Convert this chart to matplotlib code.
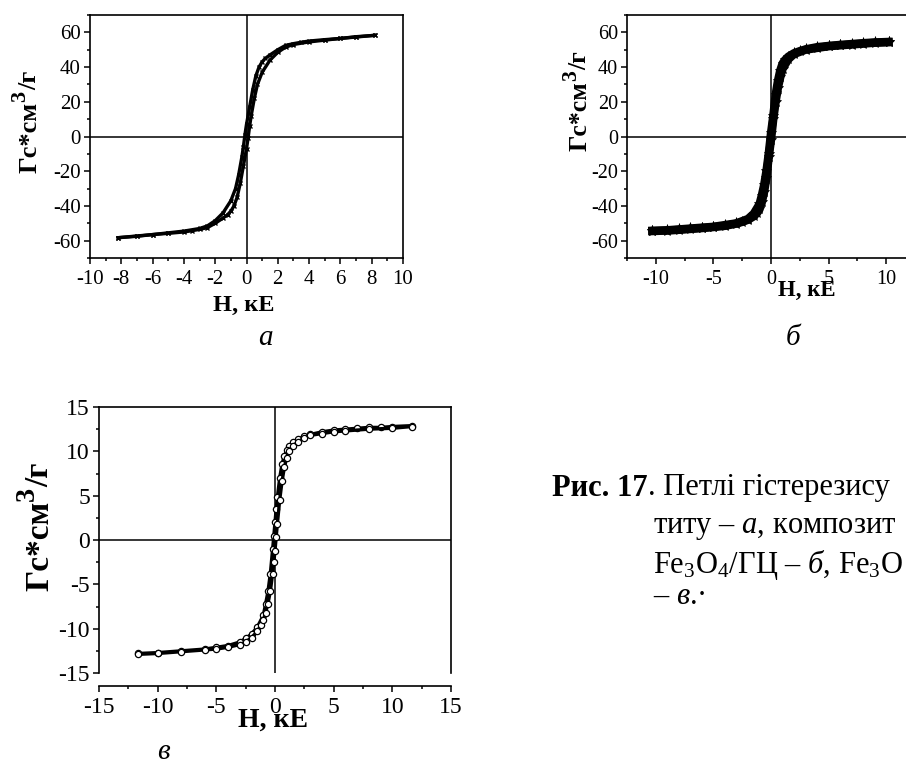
import matplotlib
matplotlib.use('agg')
from matplotlib import pyplot as plt
from matplotlib.ticker import MultipleLocator

plt.rcParams.update({
    "font.family": ["Liberation Serif", "DejaVu Serif"],
    "mathtext.fontset": "custom",
    "mathtext.rm": "Liberation Serif",
    "mathtext.it": "Liberation Serif:italic",
    "mathtext.bf": "Liberation Serif:bold",
    "axes.unicode_minus": False,
})

W, H = 906, 767

# panel a: magnetite, descending and ascending branches
a_h_down = [8.2, 7, 6, 5, 4, 3.5, 3, 2.5, 2, 1.5, 1.2, 1.0, 0.8, 0.6, 0.4, 0.2, 0.0,
            -0.1, -0.2, -0.3, -0.5, -0.7, -1.0, -1.5, -2, -2.5, -3, -4, -5, -6, -7, -8.2]
a_m_down = [58.3, 57.5, 56.5, 55.8, 55, 54.3, 53.5, 52.5, 50, 47, 45, 43, 40, 35, 27, 17, 7,
            1, -6, -12, -22, -30, -37, -44, -48.5, -51.5, -53, -54.5, -55.5, -56.5, -57.3, -58.3]
a_h_up = [-8.2, -7, -6, -5, -4, -3.5, -3, -2.5, -2, -1.5, -1.2, -1.0, -0.8, -0.6, -0.4, -0.2, 0.0,
          0.1, 0.2, 0.3, 0.5, 0.7, 1.0, 1.5, 2, 2.5, 3, 4, 5, 6, 7, 8.2]
a_m_up = [-58.3, -57.5, -56.5, -55.8, -55, -54.3, -53.5, -52.5, -50, -47, -45, -43, -40, -35, -27, -17, -7,
          -1, 6, 12, 22, 30, 37, 44, 48.5, 51.5, 53, 54.5, 55.5, 56.5, 57.3, 58.3]

# panel b: Fe3O4/GC composite
b_h_down = [10.2, 9, 8, 7, 6, 5, 4, 3, 2.5, 2, 1.5, 1.2, 1.0, 0.8, 0.6, 0.4, 0.2, 0.0,
            -0.2, -0.4, -0.6, -0.8, -1.0, -1.5, -2, -3, -4, -5, -6, -7, -8, -9, -10.3]
b_m_down = [54.5, 54.2, 53.8, 53.3, 52.8, 52.2, 51.5, 50.2, 49.2, 48, 46, 44, 42, 38, 32, 24, 12, 2,
            -10, -20, -28, -34, -39, -44.5, -47.5, -50, -51, -52, -52.5, -53, -53.5, -54, -54.3]
b_h_up = [-10.3, -9, -8, -7, -6, -5, -4, -3, -2.5, -2, -1.5, -1.2, -1.0, -0.8, -0.6, -0.4, -0.2, 0.0,
          0.2, 0.4, 0.6, 0.8, 1.0, 1.5, 2, 3, 4, 5, 6, 7, 8, 9, 10.2]
b_m_up = [-54.5, -54.2, -53.8, -53.3, -52.8, -52.2, -51.5, -50.2, -49.2, -48, -46, -44, -42, -38, -32, -24, -12, -2,
          10, 20, 28, 34, 39, 44.5, 47.5, 50, 51, 52, 52.5, 53, 53.5, 54, 54.3]

# panel c: second composite
c_h_down = [11.7, 10, 9, 8, 7, 6, 5, 4, 3, 2.5, 2, 1.5, 1.2, 1.0, 0.8, 0.6, 0.4, 0.2, 0.1, 0.0,
            -0.1, -0.2, -0.4, -0.6, -0.8, -1.0, -1.5, -2, -2.5, -3, -4, -5, -6, -8, -10, -11.7]
c_m_down = [12.9, 12.8, 12.7, 12.7, 12.6, 12.5, 12.4, 12.2, 11.9, 11.7, 11.4, 11.0, 10.6, 10.1, 9.5, 8.6, 7.0, 4.8, 3.5, 2.0,
            0.5, -1.0, -3.8, -5.8, -7.2, -8.5, -9.8, -10.6, -11.1, -11.5, -11.9, -12.1, -12.3, -12.5, -12.7, -12.8]
c_h_up = [-11.7, -10, -8, -6, -5, -4, -3, -2.5, -2, -1.5, -1.2, -1.0, -0.8, -0.6, -0.4, -0.2, -0.1, 0.0,
          0.1, 0.2, 0.4, 0.6, 0.8, 1.0, 1.2, 1.5, 2, 2.5, 3, 4, 5, 6, 8, 10, 11.7]
c_m_up = [-12.9, -12.8, -12.6, -12.4, -12.3, -12.1, -11.8, -11.5, -11.0, -10.3, -9.6, -9.0, -8.2, -7.2, -5.8, -3.8, -2.5, -1.2,
          0.3, 1.8, 4.5, 6.6, 8.2, 9.3, 10.0, 10.6, 11.1, 11.5, 11.8, 12.0, 12.2, 12.3, 12.5, 12.6, 12.8]

# y label pieces: text, size factor, raised (superscript)
YLABEL_PARTS = [("Гс*см", 1.0, False), ("3", 0.85, True), ("/г", 1.0, False)]
XLABEL = "H, кЕ"

CAPTION_BOLD = "Рис. 17"
caption_lines = [
    (552, 488, ". Петлі гістерезису"),
    (653, 528, r"титу – $\it{а}$, композит"),
    (653, 565, r"Fe$_3$O$_4$/ГЦ – $\it{б}$, Fe$_3$O"),
    (653, 597, r"– $\it{в}$.·"),
]
CAPTION_FS = 22


def box(left, top, right, bottom):
    return [left / W, 1 - bottom / H, (right - left) / W, (bottom - top) / H]


def px(x, y):
    return x / W, 1 - y / H


def style(ax, xlim, ylim, xmaj, xmin, ymaj, ymin, fs):
    ax.set_xlim(*xlim)
    ax.set_ylim(*ylim)
    ax.xaxis.set_major_locator(MultipleLocator(xmaj))
    ax.xaxis.set_minor_locator(MultipleLocator(xmin))
    ax.yaxis.set_major_locator(MultipleLocator(ymaj))
    ax.yaxis.set_minor_locator(MultipleLocator(ymin))
    ax.tick_params(which='both', direction='out', top=False, right=False,
                   labelsize=fs, width=1.1)
    ax.tick_params(which='major', length=4.5)
    ax.tick_params(which='minor', length=2.5)
    ax.tick_params(axis='y', pad=2)
    ax.tick_params(axis='x', pad=4)
    for s in ax.spines.values():
        s.set_linewidth(1.2)
    ax.axhline(0, color='black', lw=1.1, zorder=1)
    ax.axvline(0, color='black', lw=1.1, zorder=1)


def text_width(s, **kw):
    r = fig.canvas.get_renderer()
    t = fig.text(0, 0, s, **kw)
    w = t.get_window_extent(r).width
    t.remove()
    return w


def vlabel(xc, yc, fs):
    # rotated label with a full-size superscript, centred at (xc, yc) image pixels
    lengths = [text_width(s, fontsize=fs * k, fontweight='bold') for s, k, _ in YLABEL_PARTS]
    cap = 0.66 * fs * 100 / 72
    base_x = xc + cap / 2
    y = (H - yc) - sum(lengths) / 2
    for (s, k, sup), ln in zip(YLABEL_PARTS, lengths):
        x = base_x - (0.42 * fs * 100 / 72 if sup else 0)
        fig.text(x / W, y / H, s, fontsize=fs * k, fontweight='bold', rotation=90,
                 rotation_mode='anchor', ha='left', va='baseline')
        y += ln


fig = plt.figure(figsize=(W / 100, H / 100), dpi=100)

ax_a = fig.add_axes(box(90, 15, 403, 258))
style(ax_a, (-10, 10), (-70, 70), 2, 1, 20, 10, 15)
for hh, mm in ((a_h_down, a_m_down), (a_h_up, a_m_up)):
    ax_a.plot(hh, mm, color='black', lw=2.4, marker='x', ms=3.5, mew=1)

ax_b = fig.add_axes(box(627, 15, 915, 258))
style(ax_b, (-12.5, 12.5), (-70, 70), 5, 2.5, 20, 10, 14.5)
for hh, mm in ((b_h_down, b_m_down), (b_h_up, b_m_up)):
    ax_b.plot(hh, mm, color='black', lw=6, marker='*', ms=8, mew=0.5)

ax_c = fig.add_axes(box(99, 407, 451, 673))
style(ax_c, (-15, 15), (-15, 15), 5, 2.5, 5, 2.5, 17)
ax_c.spines['bottom'].set_position(('outward', 9))
for hh, mm in ((c_h_down, c_m_down), (c_h_up, c_m_up)):
    ax_c.plot(hh, mm, color='black', lw=2.4, marker='o', ms=4.5, mfc='white', mew=0.9)

# axis labels
vlabel(28, 122, 19)
vlabel(578, 101, 18.5)
vlabel(37, 527, 24)
fig.text(*px(244, 305), XLABEL, ha='center', va='center', fontsize=17.5, fontweight='bold')
fig.text(*px(807, 290), XLABEL, ha='center', va='center', fontsize=16.5, fontweight='bold')
fig.text(*px(273, 720), XLABEL, ha='center', va='center', fontsize=20, fontweight='bold')

# panel letters
fig.text(*px(265, 338), "а", ha='center', va='center', fontsize=21, style='italic')
fig.text(*px(793, 338), "б", ha='center', va='center', fontsize=21, style='italic')
fig.text(*px(163, 752), "в", ha='center', va='center', fontsize=21, style='italic')

# caption
bold_w = text_width(CAPTION_BOLD, fontsize=CAPTION_FS, fontweight='bold')
fig.text(*px(552, 488), CAPTION_BOLD, ha='left', va='center', fontsize=CAPTION_FS, fontweight='bold')
for i, (x, y, s) in enumerate(caption_lines):
    x0 = x + bold_w if i == 0 else x
    fig.text(*px(x0, y), s, ha='left', va='center', fontsize=CAPTION_FS)

fig.savefig("out.png", dpi=100, facecolor='white')
